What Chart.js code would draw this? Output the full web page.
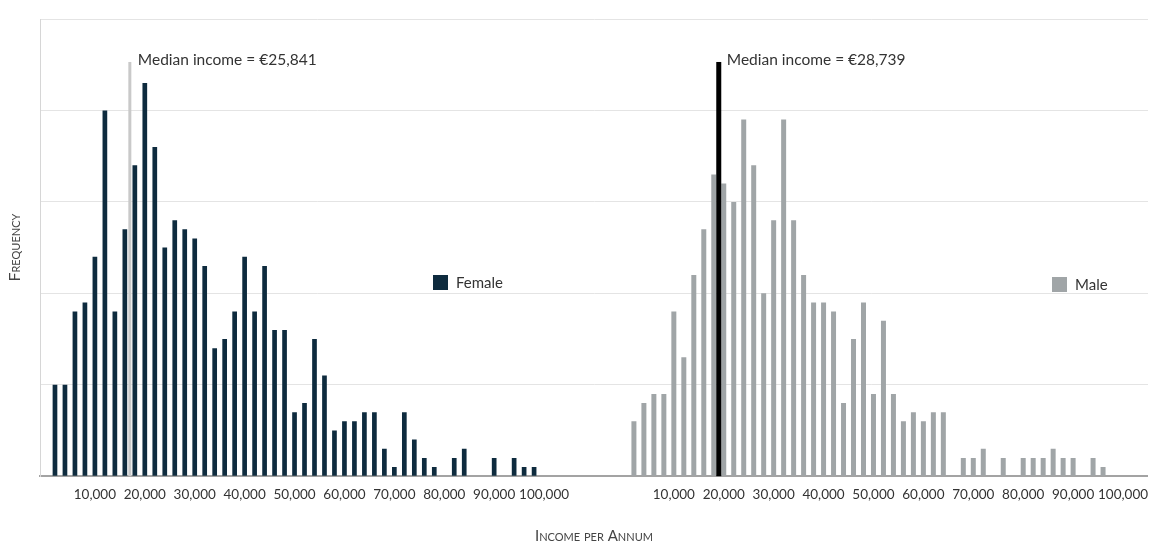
<!DOCTYPE html>
<html>
<head>
<meta charset="utf-8">
<title>Income per Annum</title>
<script src="https://cdn.jsdelivr.net/npm/chart.js@4.4.0/dist/chart.umd.min.js"></script>
<style>
    html, body { margin: 0; padding: 0; background: #fff; }
    #wrap { width: 1153px; height: 545px; }
</style>
</head>
<body>
<div id="wrap"><canvas id="incomeChart"></canvas></div>
<script>
// Income distribution, female vs male

// bins are 2,000 wide, first bar is the 2,000 bin
const binSize = 2000;

const femaleFreq = [10, 10, 18, 19, 24, 40, 18, 27, 34, 43,
                    36, 25, 28, 27, 26, 23, 14, 15, 18, 24,
                    18, 23, 16, 16, 7, 8, 15, 11, 5, 6,
                    6, 7, 7, 3, 1, 7, 4, 2, 1, 0,
                    2, 3, 0, 0, 2, 0, 2, 1, 1];

const maleFreq = [6, 8, 9, 9, 18, 13, 22, 27, 33, 32,
                  30, 39, 34, 20, 28, 39, 28, 22, 19, 19,
                  18, 8, 15, 19, 9, 17, 9, 6, 7, 6,
                  7, 7, 0, 2, 2, 3, 0, 2, 0, 2,
                  2, 2, 3, 2, 2, 0, 2, 1];

const tickLabels = ['10,000', '20,000', '30,000', '40,000', '50,000',
                    '60,000', '70,000', '80,000', '90,000', '100,000'];

const seriesNames = ['Female', 'Male'];
const medianIncome = ['€25,841', '€28,739'];
const medianBin = [7.5, 8.5];        // marker sits between two bins
const medianHeight = [45.3, 45.3];

// bin slots per panel (bars + empty space to the next panel)
const panelSlots = [58, 53];

const femaleColor = '#0e2b3e';
const maleColor = '#a0a5a7';

// category list: each panel restarts at 0
const categories = [];
const panelStart = [];
panelSlots.forEach(function(n) {
    panelStart.push(categories.length);
    for (let i = 0; i < n; i++) categories.push(String(i * binSize));
});

function placeSeries(values, start) {
    const out = categories.map(function() { return null; });
    values.forEach(function(v, k) { out[start + 1 + k] = v; });
    return out;
}

const femaleData = placeSeries(femaleFreq, panelStart[0]);
const maleData = placeSeries(maleFreq, panelStart[1]);

// median markers and their labels
const medianPlugin = {
    id: 'medianMarkers',
    afterDatasetsDraw: function(chart) {
        const ctx = chart.ctx;
        const x = chart.scales.x;
        const y = chart.scales.y;
        const styles = [{ color: '#c9c9c9', width: 3 }, { color: '#000000', width: 5 }];
        ctx.save();
        for (let p = 0; p < 2; p++) {
            const px = x.getPixelForValue(panelStart[p] + 1 + medianBin[p]);
            const top = y.getPixelForValue(medianHeight[p]);
            const base = y.getPixelForValue(0);
            ctx.fillStyle = styles[p].color;
            ctx.fillRect(px - styles[p].width / 2, top, styles[p].width, base - top);
            ctx.fillStyle = '#333333';
            ctx.font = '15.5px Lato';
            ctx.textBaseline = 'middle';
            ctx.textAlign = 'left';
            ctx.fillText('Median income = ' + medianIncome[p], px + 8, top - 2);
        }
        ctx.restore();
    }
};

// legend boxes sit inside each panel
const legendPlugin = {
    id: 'panelLegend',
    afterDraw: function(chart) {
        const ctx = chart.ctx;
        const spots = [{ x: 433, y: 275 }, { x: 1052, y: 277 }];
        ctx.save();
        chart.data.datasets.forEach(function(ds, i) {
            ctx.fillStyle = ds.backgroundColor;
            ctx.fillRect(spots[i].x, spots[i].y, 15, 15);
            ctx.fillStyle = '#333333';
            ctx.font = '15px Lato';
            ctx.textBaseline = 'middle';
            ctx.fillText(ds.label, spots[i].x + 23, spots[i].y + 8);
        });
        ctx.restore();
    }
};

const chartEl = document.getElementById('incomeChart');
new Chart(chartEl, {
    type: 'bar',
    data: {
        labels: categories,
        datasets: [{
            label: seriesNames[0],
            data: femaleData,
            backgroundColor: femaleColor,
            grouped: false,
            barPercentage: 0.47,
            categoryPercentage: 1
        }, {
            label: seriesNames[1],
            data: maleData,
            backgroundColor: maleColor,
            grouped: false,
            barPercentage: 0.5,
            categoryPercentage: 1
        }]
    },
    options: {
        responsive: true,
        maintainAspectRatio: false,
        animation: false,
        layout: { padding: { top: 19, right: 3, left: 1, bottom: 0 } },
        plugins: {
            legend: { display: false },
            tooltip: { enabled: false }
        },
        scales: {
            x: {
                grid: { display: false, drawTicks: false },
                border: { color: '#a3a3a3', width: 2 },
                ticks: {
                    autoSkip: false,
                    maxRotation: 0,
                    padding: 10,
                    color: '#333333',
                    font: { family: 'Lato', size: 13.5 },
                    callback: function(value) {
                        const s = Number(this.getLabelForValue(value)).toLocaleString('en-US');
                        return tickLabels.includes(s) ? s : '';
                    }
                },
                title: {
                    display: true,
                    text: 'Income per Annum',
                    color: '#444444',
                    font: { family: 'Lato', size: 15, weight: 'small-caps' },
                    padding: { top: 14.6, bottom: 0 }
                }
            },
            y: {
                min: 0,
                max: 50,
                ticks: { display: false, stepSize: 10 },
                grid: {
                    drawTicks: false,
                    color: function(c) { return c.tick.value === 0 ? 'rgba(0,0,0,0)' : '#e4e4e4'; }
                },
                border: { color: '#d6d6d6', width: 1 },
                title: {
                    display: true,
                    text: 'Frequency',
                    color: '#444444',
                    font: { family: 'Lato', size: 16, weight: 'small-caps' },
                    padding: { top: 4, bottom: 15.8 }
                }
            }
        }
    },
    plugins: [medianPlugin, legendPlugin]
});
</script>
</body>
</html>
